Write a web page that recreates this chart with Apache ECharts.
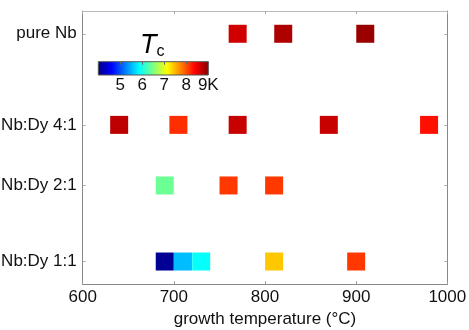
<!DOCTYPE html>
<html>
<head>
<meta charset="utf-8">
<script src="https://cdn.jsdelivr.net/npm/echarts@6/dist/echarts.min.js"></script>
<style>
  html, body { margin: 0; padding: 0; background: #fff; }
  #chart { width: 469px; height: 330px; }
</style>
</head>
<body>
<div id="chart"></div>
<script>
// rows: composition label and Dy content (%) used as y position
const rowNames = ['pure Nb', 'Nb:Dy 4:1', 'Nb:Dy 2:1', 'Nb:Dy 1:1'];
const rowDy = [0, 20, 33.3, 50];

// growth temperatures (°C) and Tc (K) per composition
const pureTemps = [770, 820, 910];
const pureTc = [8.6, 8.77, 8.87];
const dy41Temps = [640, 705, 770, 870, 980];
const dy41Tc = [8.7, 8.15, 8.65, 8.65, 8.3];
const dy21Temps = [690, 760, 810];
const dy21Tc = [6.4, 8.1, 8.1];
const dy11Temps = [690, 710, 730, 810, 900];
const dy11Tc = [4.1, 5.55, 5.9, 7.4, 8.1];

const xTicks = [600, 700, 800, 900, 1000];
const tcTicks = [5, 6, 7, 8, 9];

// jet colormap, evenly spaced stops
const jet = ['#000080', '#0000ff', '#0080ff', '#00ffff', '#80ff80',
             '#ffff00', '#ff8000', '#ff0000', '#800000'];

function rowPoints(temps, tcs, dy) {
    return temps.map((t, i) => [t, dy, tcs[i]]);
}

const points = []
    .concat(rowPoints(pureTemps, pureTc, rowDy[0]))
    .concat(rowPoints(dy41Temps, dy41Tc, rowDy[1]))
    .concat(rowPoints(dy21Temps, dy21Tc, rowDy[2]))
    .concat(rowPoints(dy11Temps, dy11Tc, rowDy[3]));

function rowLabel(v) {
    for (let i = 0; i < rowDy.length; i++) {
        if (Math.abs(rowDy[i] - v) < 0.5) return rowNames[i];
    }
    return '';
}

const chart = echarts.init(document.getElementById('chart'));

const fontName = 'Liberation Sans, Arial, sans-serif';
const labelFont = { fontFamily: fontName, fontSize: 17, color: '#111' };

chart.setOption({
    animation: false,
    backgroundColor: '#fff',
    textStyle: { fontFamily: fontName },
    title: {
        text: '{t|T}{c|c}',
        left: 135,
        top: 26,
        textStyle: {
            fontWeight: 'normal',
            rich: {
                t: { fontSize: 27, fontStyle: 'italic', fontWeight: 'normal', color: '#000', fontFamily: fontName },
                c: { fontSize: 16, fontWeight: 'normal', color: '#000', padding: [13, 0, 0, 0], fontFamily: fontName }
            }
        }
    },
    grid: [
        { left: 82.7, right: 21.7, top: 11, bottom: 45.7, outerBoundsMode: 'none' },
        {
            left: 98.3, top: 61.7, width: 110, height: 13.3, outerBoundsMode: 'none',
            show: true,
            borderColor: '#555',
            borderWidth: 1,
            backgroundColor: {
                type: 'linear', x: 0, y: 0, x2: 1, y2: 0,
                colorStops: jet.map((c, i) => ({ offset: i / (jet.length - 1), color: c }))
            }
        }
    ],
    xAxis: [
        {
            gridIndex: 0, type: 'value', min: 600, max: 1000, interval: 100,
            name: 'growth temperature (°C)', nameLocation: 'middle', nameGap: 26,
            nameTextStyle: labelFont,
            axisLine: { onZero: false, lineStyle: { color: '#888', width: 1 } },
            axisTick: { inside: true, length: 3, lineStyle: { color: '#999' } },
            axisLabel: Object.assign({ margin: 5, customValues: xTicks, formatter: v => String(v) }, labelFont),
            splitLine: { show: false }
        },
        {
            gridIndex: 0, type: 'value', min: 600, max: 1000, interval: 100, position: 'top',
            axisLine: { onZero: false, lineStyle: { color: '#bbb', width: 1 } },
            axisTick: { inside: true, length: 3, lineStyle: { color: '#aaa' } },
            axisLabel: { show: false },
            splitLine: { show: false }
        },
        {
            gridIndex: 1, type: 'value', min: 4, max: 9, interval: 1,
            axisLine: { show: false, onZero: false },
            axisTick: { show: false },
            axisLabel: Object.assign({
                margin: 2,
                customValues: tcTicks,
                formatter: v => v === 9 ? '9K' : String(v)
            }, labelFont),
            splitLine: { show: false }
        },
        {
            gridIndex: 1, type: 'value', min: 4, max: 9, interval: 1, position: 'top',
            axisLine: { show: false, onZero: false },
            axisTick: { inside: true, length: 3, lineStyle: { color: '#666' } },
            axisLabel: { show: false },
            splitLine: { show: false }
        }
    ],
    yAxis: [
        {
            gridIndex: 0, type: 'value', min: -5, max: 55, inverse: true,
            axisLine: { show: true, onZero: false, lineStyle: { color: '#888', width: 1 } },
            axisTick: { show: true, inside: true, length: 3, customValues: rowDy, lineStyle: { color: '#aaa' } },
            axisLabel: Object.assign({ margin: 6, customValues: rowDy, formatter: rowLabel }, labelFont),
            splitLine: { show: false }
        },
        {
            gridIndex: 0, type: 'value', min: -5, max: 55, inverse: true, position: 'right',
            axisLine: { show: true, onZero: false, lineStyle: { color: '#888', width: 1 } },
            axisTick: { show: true, inside: true, length: 3, customValues: rowDy, lineStyle: { color: '#aaa' } },
            axisLabel: { show: false },
            splitLine: { show: false }
        },
        {
            gridIndex: 1, type: 'value', min: 0, max: 1,
            axisLine: { show: false, onZero: false }, axisTick: { show: false },
            axisLabel: { show: false }, splitLine: { show: false }
        }
    ],
    visualMap: {
        show: false,
        type: 'continuous',
        seriesIndex: 0,
        dimension: 2,
        min: 4,
        max: 9,
        inRange: { color: jet }
    },
    series: [
        {
            type: 'scatter',
            xAxisIndex: 0,
            yAxisIndex: 0,
            symbol: 'rect',
            symbolSize: 18,
            data: points,
            itemStyle: { opacity: 1 }
        }
    ]
});
</script>
</body>
</html>
